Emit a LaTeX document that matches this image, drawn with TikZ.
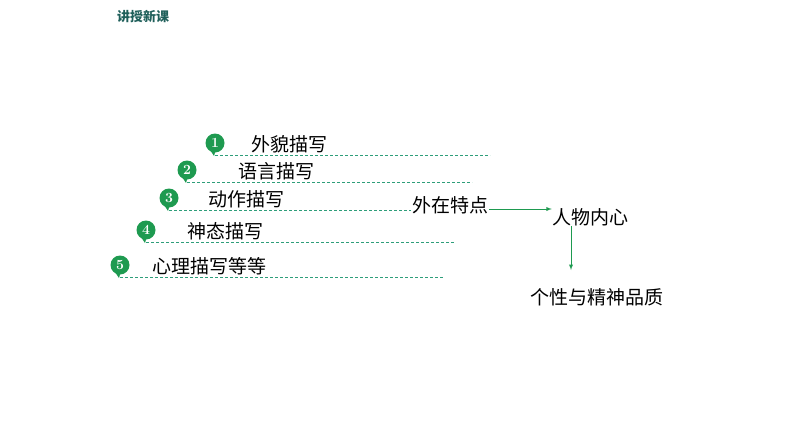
\documentclass[tikz,border=0pt]{standalone}
\usepackage{fontspec}
\newfontfamily\cjk{Noto Sans CJK SC}
\usetikzlibrary{positioning}
\definecolor{markgreen}{HTML}{1E9A50}
\definecolor{linegreen}{HTML}{2E9E7A}
\definecolor{titleteal}{HTML}{1F5F5A}
\tikzset{
  marker/.style={circle,fill=markgreen,text=white,inner sep=0pt,minimum size=19pt,font=\bfseries\fontsize{14}{14}\selectfont},
  item/.style={font=\cjk\fontsize{19}{19}\selectfont,inner sep=0pt},
  guide/.style={linegreen,densely dashed,line width=0.6pt},
  flow/.style={markgreen,line width=0.9pt,-latex}
}
\begin{document}
\begin{tikzpicture}[x=1pt,y=-1pt]
        \useasboundingbox (0,0) rectangle (794,447);
        \node[font=\cjk\bfseries\fontsize{13}{13}\selectfont,text=titleteal] (title) at (143,17) {讲授新课};
        % numbered items
        \foreach \n/\cx/\cy/\tx/\txt/\ex in {1/215/143/289/外貌描写/490,
                                             2/187/170/276/语言描写/472,
                                             3/169/198/246/动作描写/455,
                                             4/146/230/225/神态描写/455,
                                             5/120/265/209/心理描写等等/443}{
          \fill[markgreen] (\cx-7,\cy+4) -- (\cx-1,\cy+13) -- (\cx+1,\cy+6) -- cycle;
          \node[marker] (m\n) at (\cx,\cy) {\n};
          \node[item] (t\n) at (\tx,\cy+1) {\txt};
          \coordinate (s\n) at (\cx,\cy+12);
          \coordinate (e\n) at (\ex,\cy+12);
          \draw[guide] (s\n) -- (e\n);
        }
        \node[item,fill=white,inner sep=1pt] (outer) at (450,205) {外在特点};
        \node[item] (heart) at (590,217) {人物内心};
        \node[item] (quality) at (597,297) {个性与精神品质};
        \coordinate (drop) at (571,270);
        \draw[flow] (outer.east) ++(0,4) -- (heart.west |- 0,209);
        \draw[flow] (heart.south -| drop) -- (drop);
\end{tikzpicture}
\end{document}
